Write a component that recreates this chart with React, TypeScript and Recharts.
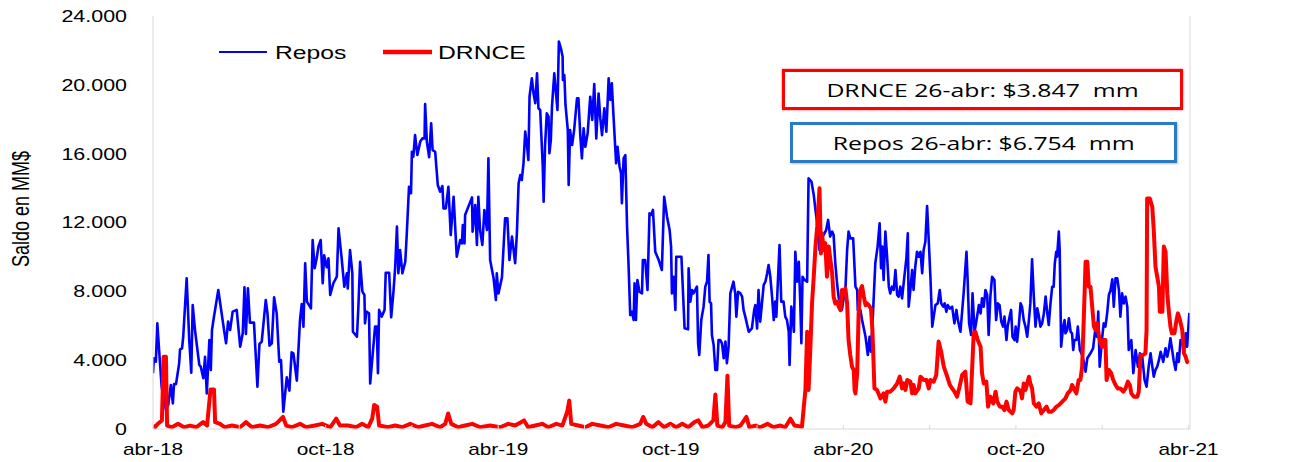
import React from 'react';
import { LineChart, Line, XAxis, YAxis } from 'recharts';

// x = months since abr-18, y = balance in thousands of MM$
const reposSeries: [number, number][] = [
  [0, 3.24], [0.03, 4.11], [0.1, 3.91], [0.15, 6.14], [0.22, 4.4], [0.3, 2.46], [0.45, 1.1], [0.53, 1.4], [0.62, 2.56], [0.69, 1.49],
  [0.73, 2.61], [0.8, 2.61], [0.91, 3.82], [0.94, 4.63], [1.01, 4.69], [1.05, 5.36], [1.17, 8.76], [1.26, 5.17], [1.33, 3.27], [1.38, 7.2],
  [1.46, 5.75], [1.61, 3.72], [1.66, 3.62], [1.75, 2.95], [1.81, 4.2], [1.87, 2.07], [1.96, 5.17], [2.01, 3.43], [2.05, 5.75], [2.12, 6.53],
  [2.27, 8.08], [2.42, 6.33], [2.47, 5.75], [2.54, 4.98], [2.61, 6.24], [2.68, 5.75], [2.77, 6.82], [2.91, 6.92], [3.03, 4.78], [3.12, 5.56],
  [3.18, 8.23], [3.23, 5.52], [3.3, 8.17], [3.37, 6.18], [3.51, 6.18], [3.63, 2.46], [3.7, 4.94], [3.78, 5.08], [3.92, 7.5], [3.98, 6.72],
  [4.05, 4.84], [4.13, 4.98], [4.21, 7.65], [4.3, 6.72], [4.39, 3.91], [4.45, 4.0], [4.53, 1.0], [4.65, 3.0], [4.74, 2.23], [4.82, 4.46],
  [4.88, 4.4], [5.0, 2.81], [5.11, 6.33], [5.17, 7.26], [5.23, 5.95], [5.29, 9.63], [5.35, 7.4], [5.49, 7.01], [5.55, 10.98], [5.62, 9.34],
  [5.69, 9.92], [5.75, 10.6], [5.83, 10.98], [5.9, 8.47], [5.95, 10.1], [6.04, 9.4], [6.1, 9.92], [6.16, 7.79], [6.27, 8.47], [6.39, 8.85],
  [6.45, 11.66], [6.56, 9.9], [6.65, 8.27], [6.74, 9.05], [6.77, 8.17], [6.85, 10.4], [6.93, 9.05], [6.95, 5.65], [7.09, 5.36], [7.14, 7.11],
  [7.2, 9.72], [7.28, 7.98], [7.35, 7.79], [7.37, 6.14], [7.42, 6.82], [7.51, 6.72], [7.55, 2.65], [7.63, 4.2], [7.72, 5.95], [7.78, 5.95],
  [7.82, 3.24], [7.86, 6.92], [7.95, 6.53], [8.05, 6.92], [8.09, 9.08], [8.21, 9.08], [8.28, 6.49], [8.36, 7.98], [8.42, 9.43], [8.48, 11.76],
  [8.53, 9.05], [8.59, 10.4], [8.67, 9.05], [8.77, 9.72], [8.82, 11.27], [8.9, 14.08], [8.97, 13.7], [9.0, 16.11], [9.05, 15.82], [9.11, 17.08],
  [9.19, 15.92], [9.29, 16.7], [9.37, 16.89], [9.44, 16.89], [9.46, 18.89], [9.52, 16.7], [9.6, 15.79], [9.67, 17.76], [9.72, 16.21], [9.81, 16.11],
  [9.9, 14.18], [9.98, 13.79], [10.06, 14.12], [10.1, 12.82], [10.18, 12.82], [10.27, 14.08], [10.35, 11.27], [10.45, 13.5], [10.56, 10.01], [10.68, 10.98],
  [10.74, 10.79], [10.77, 11.85], [10.83, 10.79], [10.85, 12.44], [11.09, 13.46], [11.11, 11.47], [11.2, 13.02], [11.26, 10.69], [11.31, 13.5], [11.37, 11.56],
  [11.45, 10.69], [11.52, 12.73], [11.61, 11.56], [11.66, 15.73], [11.72, 9.82], [11.84, 8.76], [11.92, 7.5], [11.95, 9.05], [12.01, 7.88], [12.13, 8.8],
  [12.24, 12.24], [12.32, 12.24], [12.39, 9.82], [12.48, 11.18], [12.59, 9.63], [12.65, 11.37], [12.71, 14.28], [12.77, 14.76], [12.82, 14.47], [12.88, 15.44],
  [12.94, 17.28], [13.0, 16.5], [13.05, 15.63], [13.09, 19.31], [13.17, 20.38], [13.23, 19.5], [13.29, 18.93], [13.35, 20.67], [13.4, 18.64], [13.46, 18.54],
  [13.55, 15.24], [13.58, 13.21], [13.63, 16.5], [13.69, 18.34], [13.75, 18.15], [13.78, 16.02], [13.83, 16.79], [13.87, 18.73], [13.95, 20.67], [14.02, 19.31],
  [14.06, 18.54], [14.11, 22.51], [14.18, 22.12], [14.24, 21.63], [14.25, 20.28], [14.3, 20.57], [14.34, 18.83], [14.42, 17.37], [14.45, 14.18], [14.5, 17.37],
  [14.57, 16.5], [14.64, 17.37], [14.74, 19.22], [14.79, 19.22], [14.85, 17.18], [14.91, 15.73], [14.97, 17.47], [15.03, 16.4], [15.11, 17.18], [15.2, 19.31],
  [15.27, 17.96], [15.34, 20.05], [15.41, 16.89], [15.49, 19.5], [15.55, 18.05], [15.61, 17.08], [15.69, 18.64], [15.76, 17.28], [15.84, 20.38], [15.9, 19.12],
  [15.95, 20.09], [16.01, 18.15], [16.1, 15.44], [16.15, 16.4], [16.22, 15.24], [16.27, 14.86], [16.3, 13.12], [16.36, 15.73], [16.42, 15.92], [16.48, 11.76],
  [16.53, 9.63], [16.59, 6.62], [16.65, 6.82], [16.71, 6.33], [16.74, 8.47], [16.79, 6.33], [16.84, 8.66], [16.91, 7.98], [17.0, 7.88], [17.03, 9.82],
  [17.11, 9.82], [17.19, 8.08], [17.26, 12.53], [17.31, 12.44], [17.38, 12.73], [17.46, 10.3], [17.58, 9.82], [17.69, 9.24], [17.77, 13.5], [17.87, 12.34],
  [17.96, 11.56], [18.01, 10.6], [18.04, 7.88], [18.1, 8.85], [18.16, 6.92], [18.19, 10.01], [18.37, 10.01], [18.48, 5.85], [18.6, 5.79], [18.62, 9.34],
  [18.68, 7.4], [18.74, 8.08], [18.79, 7.88], [18.91, 8.27], [18.95, 4.98], [18.99, 4.3], [19.06, 6.33], [19.14, 7.11], [19.2, 8.27], [19.26, 8.56],
  [19.31, 10.11], [19.35, 7.4], [19.4, 7.3], [19.43, 5.46], [19.49, 4.88], [19.55, 3.43], [19.61, 3.43], [19.66, 5.17], [19.72, 5.17], [19.78, 4.98],
  [19.84, 4.11], [19.9, 5.08], [19.95, 3.82], [20.01, 4.78], [20.07, 7.88], [20.18, 8.56], [20.24, 7.88], [20.28, 6.53], [20.34, 7.98], [20.42, 7.88],
  [20.48, 7.69], [20.53, 6.92], [20.59, 6.53], [20.71, 5.65], [20.82, 5.85], [20.9, 6.92], [20.94, 7.2], [21.0, 5.85], [21.05, 8.08], [21.11, 6.24],
  [21.23, 8.37], [21.29, 8.56], [21.35, 9.05], [21.4, 9.53], [21.46, 8.85], [21.52, 7.69], [21.58, 6.33], [21.63, 7.4], [21.67, 6.53], [21.73, 8.85],
  [21.78, 10.69], [21.84, 7.4], [21.92, 7.4], [21.98, 6.53], [22.04, 6.33], [22.1, 5.65], [22.13, 3.72], [22.19, 7.11], [22.24, 6.43], [22.28, 5.65],
  [22.33, 10.3], [22.39, 8.56], [22.45, 9.72], [22.5, 7.4], [22.54, 4.98], [22.58, 8.85], [22.65, 8.66], [22.74, 8.56], [22.79, 14.57], [22.89, 14.38],
  [22.97, 13.6], [23.03, 12.73], [23.09, 11.95], [23.12, 11.27], [23.17, 10.4], [23.23, 11.08], [23.31, 11.27], [23.4, 11.56], [23.47, 12.15], [23.54, 11.18],
  [23.61, 11.47], [23.66, 11.27], [23.72, 9.63], [23.78, 8.47], [23.84, 7.59], [23.9, 7.4], [23.95, 6.92], [24.01, 7.59], [24.07, 8.08], [24.13, 10.4],
  [24.18, 11.47], [24.24, 11.08], [24.34, 11.08], [24.42, 8.27], [24.48, 8.08], [24.5, 6.92], [24.53, 6.82], [24.59, 6.92], [24.65, 6.33], [24.77, 5.36],
  [24.85, 4.3], [24.91, 5.36], [24.96, 4.49], [25.03, 6.72], [25.11, 9.63], [25.19, 10.6], [25.26, 11.95], [25.31, 9.34], [25.35, 10.6], [25.4, 8.66],
  [25.46, 11.47], [25.52, 10.01], [25.58, 8.27], [25.63, 7.88], [25.69, 8.27], [25.75, 8.08], [25.81, 9.24], [25.87, 7.79], [25.92, 7.69], [25.98, 8.27],
  [26.04, 7.59], [26.12, 8.85], [26.19, 9.92], [26.24, 11.37], [26.27, 7.11], [26.33, 8.08], [26.39, 9.24], [26.44, 8.08], [26.5, 9.43], [26.56, 10.3],
  [26.62, 10.01], [26.68, 10.3], [26.74, 9.05], [26.79, 10.4], [26.85, 10.88], [26.91, 12.96], [26.97, 10.88], [27.03, 8.66], [27.09, 5.95], [27.2, 7.2],
  [27.28, 7.3], [27.35, 8.08], [27.4, 7.3], [27.47, 7.11], [27.52, 7.3], [27.58, 6.82], [27.63, 7.2], [27.7, 7.0], [27.78, 7.11], [27.86, 6.14],
  [27.93, 6.92], [27.98, 6.33], [28.07, 5.65], [28.18, 7.88], [28.28, 10.3], [28.32, 8.66], [28.37, 6.14], [28.44, 5.46], [28.49, 7.88], [28.56, 5.65],
  [28.63, 6.33], [28.71, 7.2], [28.77, 6.72], [28.82, 7.59], [28.88, 7.11], [28.94, 8.08], [29.0, 7.79], [29.05, 5.46], [29.11, 7.69], [29.17, 8.85],
  [29.25, 8.66], [29.31, 6.33], [29.37, 7.3], [29.43, 7.2], [29.49, 6.24], [29.55, 5.95], [29.6, 6.53], [29.67, 5.17], [29.71, 5.95], [29.78, 6.53],
  [29.83, 6.92], [29.88, 5.36], [29.95, 5.17], [29.99, 5.95], [30.04, 5.08], [30.1, 6.04], [30.16, 7.3], [30.21, 7.11], [30.27, 6.33], [30.33, 5.95],
  [30.39, 5.36], [30.45, 6.33], [30.5, 7.3], [30.56, 9.86], [30.62, 7.69], [30.68, 5.95], [30.74, 7.01], [30.79, 6.62], [30.85, 5.95], [30.91, 6.14],
  [30.97, 6.72], [31.03, 7.69], [31.09, 6.72], [31.14, 6.04], [31.2, 7.3], [31.26, 8.27], [31.31, 8.27], [31.35, 9.63], [31.4, 10.3], [31.43, 10.01],
  [31.49, 11.47], [31.52, 10.4], [31.57, 4.78], [31.64, 5.95], [31.69, 6.33], [31.72, 5.56], [31.78, 5.75], [31.84, 6.43], [31.9, 5.65], [31.95, 5.56],
  [31.99, 4.59], [32.03, 5.17], [32.1, 5.17], [32.15, 5.95], [32.22, 4.59], [32.3, 4.3], [32.36, 3.9], [32.42, 3.33], [32.48, 4.11], [32.59, 4.4],
  [32.68, 4.69], [32.77, 5.95], [32.82, 5.36], [32.86, 6.82], [32.91, 3.62], [33.0, 5.36], [33.05, 6.14], [33.11, 5.95], [33.17, 6.72], [33.23, 7.79],
  [33.29, 8.08], [33.35, 8.7], [33.4, 7.11], [33.46, 8.76], [33.52, 8.76], [33.58, 8.08], [33.63, 6.53], [33.69, 7.88], [33.75, 7.3], [33.81, 7.69],
  [33.87, 7.11], [33.92, 4.59], [34.01, 5.17], [34.08, 3.24], [34.16, 4.59], [34.24, 3.62], [34.31, 4.4], [34.39, 4.2], [34.47, 2.85], [34.54, 2.46],
  [34.62, 3.72], [34.68, 4.4], [34.74, 3.62], [34.79, 3.04], [34.85, 3.43], [34.91, 3.62], [34.97, 4.0], [35.03, 4.49], [35.12, 3.9], [35.2, 4.69],
  [35.26, 4.2], [35.31, 4.59], [35.37, 5.27], [35.42, 4.69], [35.48, 4.0], [35.55, 3.43], [35.61, 4.4], [35.66, 3.9], [35.72, 5.17], [35.78, 5.17],
  [35.84, 4.4], [35.9, 5.56], [35.95, 4.78], [36.01, 6.33], [36.03, 6.75],
];

const drnceSeries: [number, number][] = [
  [0, 0.2], [0.07, 0.1], [0.17, 0.3], [0.31, 0.5], [0.37, 4.2], [0.45, 4.2], [0.49, 0.2], [0.66, 0.1], [0.87, 0.3], [1.08, 0.1],
  [1.29, 0.2], [1.5, 0.1], [1.74, 0.4], [1.88, 0.2], [2.0, 2.3], [2.12, 2.3], [2.16, 0.4], [2.33, 0.3], [2.5, 0.1], [2.75, 0.2],
  [3.03, 0.1], [3.23, 0.4], [3.44, 0.1], [3.72, 0.2], [4.0, 0.1], [4.28, 0.3], [4.52, 0.7], [4.63, 0.2], [4.83, 0.1], [5.11, 0.3],
  [5.32, 0.1], [5.63, 0.2], [5.88, 0.3], [6.16, 0.1], [6.37, 0.6], [6.5, 0.2], [6.78, 0.2], [7.06, 0.1], [7.27, 0.3], [7.48, 0.1],
  [7.62, 0.6], [7.69, 1.4], [7.79, 1.3], [7.86, 0.2], [8.17, 0.1], [8.42, 0.2], [8.66, 0.1], [8.94, 0.3], [9.22, 0.1], [9.46, 0.2],
  [9.7, 0.3], [9.98, 0.1], [10.16, 0.3], [10.26, 0.9], [10.37, 0.3], [10.61, 0.1], [10.85, 0.2], [11.1, 0.3], [11.37, 0.1], [11.72, 0.2],
  [12.07, 0.1], [12.35, 0.3], [12.59, 0.2], [12.9, 0.5], [13.04, 0.1], [13.29, 0.2], [13.53, 0.3], [13.74, 0.1], [14.02, 0.3], [14.23, 0.2],
  [14.4, 1.0], [14.47, 1.65], [14.54, 0.3], [14.78, 0.2], [15.03, 0.1], [15.27, 0.3], [15.55, 0.2], [15.83, 0.1], [16.1, 0.3], [16.38, 0.2],
  [16.66, 0.1], [16.94, 0.3], [17.04, 0.7], [17.15, 0.3], [17.36, 0.1], [17.57, 0.4], [17.77, 0.1], [17.98, 0.3], [18.19, 0.1], [18.4, 0.3],
  [18.61, 0.1], [18.82, 0.4], [18.96, 0.5], [19.1, 0.1], [19.3, 0.2], [19.48, 0.5], [19.55, 2.0], [19.62, 0.2], [19.79, 0.1], [19.9, 0.4],
  [19.97, 3.1], [20.03, 0.2], [20.24, 0.1], [20.42, 0.2], [20.63, 0.7], [20.73, 0.1], [20.94, 0.2], [21.11, 0.1], [21.36, 0.3], [21.57, 0.1],
  [21.81, 0.2], [21.98, 0.1], [22.16, 0.6], [22.3, 0.2], [22.56, 0.13], [22.68, 2.27], [22.74, 5.65], [22.79, 2.27], [22.85, 4.59], [22.91, 7.3],
  [22.97, 8.85], [23.03, 10.6], [23.09, 11.76], [23.17, 13.99], [23.22, 10.2], [23.26, 11.37], [23.31, 10.4], [23.37, 10.8], [23.43, 8.85], [23.49, 10.6],
  [23.55, 9.82], [23.61, 9.05], [23.66, 7.69], [23.72, 7.3], [23.78, 7.4], [23.84, 7.11], [23.9, 6.9], [23.95, 8.08], [24.01, 7.88], [24.07, 8.17],
  [24.13, 7.3], [24.18, 5.17], [24.24, 4.3], [24.3, 3.62], [24.36, 3.43], [24.39, 2.27], [24.42, 2.07], [24.48, 3.24], [24.53, 6.72], [24.59, 8.08],
  [24.65, 8.31], [24.71, 7.69], [24.77, 7.2], [24.82, 7.3], [24.88, 7.2], [24.96, 7.0], [25.01, 5.75], [25.08, 2.36], [25.17, 2.27], [25.29, 1.78],
  [25.4, 2.07], [25.46, 1.59], [25.52, 2.17], [25.63, 2.17], [25.75, 2.36], [25.87, 2.65], [25.96, 3.04], [26.04, 2.36], [26.1, 2.65], [26.16, 2.27],
  [26.22, 2.85], [26.33, 2.75], [26.39, 2.07], [26.44, 2.56], [26.5, 2.07], [26.62, 2.36], [26.68, 3.04], [26.79, 2.85], [26.89, 2.85], [26.97, 2.36],
  [27.03, 2.85], [27.14, 2.75], [27.23, 3.14], [27.31, 5.08], [27.4, 4.49], [27.49, 3.62], [27.61, 3.04], [27.7, 2.56], [27.78, 2.36], [27.86, 2.17],
  [27.95, 1.88], [28.04, 2.46], [28.13, 3.14], [28.24, 3.33], [28.32, 1.59], [28.42, 1.49], [28.48, 3.62], [28.53, 5.56], [28.59, 5.65], [28.67, 5.17],
  [28.77, 4.78], [28.82, 3.24], [28.88, 2.65], [28.97, 2.75], [29.03, 1.3], [29.11, 1.88], [29.21, 1.49], [29.29, 2.17], [29.35, 1.59], [29.44, 1.3],
  [29.52, 1.3], [29.6, 1.1], [29.67, 1.59], [29.75, 1.1], [29.87, 0.91], [29.92, 1.1], [29.98, 2.17], [30.04, 2.36], [30.16, 2.2], [30.21, 1.78],
  [30.27, 2.65], [30.33, 2.27], [30.39, 2.65], [30.45, 3.04], [30.5, 2.65], [30.56, 2.36], [30.62, 1.49], [30.71, 1.3], [30.79, 1.49], [30.88, 0.91],
  [30.97, 1.1], [31.06, 1.3], [31.14, 1.0], [31.22, 1.0], [31.31, 1.1], [31.41, 1.3], [31.49, 1.39], [31.61, 1.59], [31.72, 1.78], [31.8, 2.07],
  [31.9, 2.27], [31.95, 2.56], [32.01, 2.36], [32.1, 2.07], [32.18, 2.85], [32.24, 2.85], [32.3, 3.62], [32.36, 6.53], [32.42, 9.72], [32.48, 9.72],
  [32.53, 8.27], [32.59, 8.27], [32.65, 7.11], [32.71, 5.95], [32.77, 5.75], [32.82, 6.14], [32.88, 5.46], [32.94, 4.98], [33.0, 4.78], [33.05, 5.17],
  [33.11, 5.17], [33.15, 2.85], [33.23, 3.43], [33.31, 3.24], [33.38, 2.85], [33.46, 2.56], [33.54, 2.36], [33.63, 2.36], [33.73, 2.17], [33.81, 2.36],
  [33.89, 2.75], [33.96, 2.56], [34.01, 2.07], [34.1, 1.88], [34.22, 1.88], [34.27, 2.17], [34.33, 4.3], [34.42, 4.3], [34.5, 4.4], [34.54, 5.75],
  [34.56, 13.4], [34.65, 13.4], [34.74, 12.9], [34.79, 11.56], [34.85, 9.43], [34.91, 8.85], [34.97, 8.27], [35.0, 6.82], [35.09, 6.82], [35.14, 10.6],
  [35.2, 10.3], [35.26, 7.88], [35.31, 6.9], [35.37, 5.95], [35.42, 5.56], [35.51, 5.56], [35.58, 6.33], [35.63, 6.72], [35.7, 6.33], [35.78, 5.75],
  [35.84, 4.4], [35.9, 4.2], [35.95, 3.9], [36.01, 3.85],
];

const yTicks = [0, 4, 8, 12, 16, 20, 24];
const xTicks = [0, 3, 6, 9, 12, 15, 18, 21, 24, 27, 30, 33, 36];
const xLabels = ['abr-18', 'oct-18', 'abr-19', 'oct-19', 'abr-20', 'oct-20', 'abr-21'];
const seriesNames = ['Repos', 'DRNCE'];
const notes = ['DRNCE 26-abr: $3.847  mm', 'Repos 26-abr: $6.754  mm'];

const reposData = reposSeries.map(([x, v]) => ({ x, v }));
const drnceData = drnceSeries.map(([x, v]) => ({ x, v }));

const FONT = '"Liberation Sans", Arial, sans-serif';
const fmtY = (v: number) => (v === 0 ? '0' : `${v}.000`);

const LeftTick = (p: any) => (
  <g transform={`translate(${p.x - 26},${p.y}) scale(1.3,1)`}>
    <text textAnchor="end" dy="0.36em" fontSize={16.5} fontFamily={FONT} fill="#000">{fmtY(p.payload.value)}</text>
  </g>
);
const RightTick = (p: any) => (
  <g transform={`translate(${p.x + 23},${p.y}) scale(1.3,1)`}>
    <text textAnchor="start" dy="0.36em" fontSize={16.5} fontFamily={FONT} fill="#000">{fmtY(p.payload.value)}</text>
  </g>
);
const XTick = (p: any) => {
  const v = p.payload.value;
  return (
    <g>
      <line x1={p.x} x2={p.x} y1={p.y} y2={p.y - 4} stroke="#d9d9d9" strokeWidth={1} />
      {v % 6 === 0 && (
        <g transform={`translate(${p.x},${p.y + 20}) scale(1.3,1)`}>
          <text textAnchor="middle" dy="0.36em" fontSize={16} fontFamily={FONT} fill="#000">{xLabels[v / 6]}</text>
        </g>
      )}
    </g>
  );
};

export default function App() {
  return (
    <div style={{ position: 'absolute', left: 0, top: 0, width: 1297, height: 462, background: '#fff', overflow: 'hidden' }}>
      <LineChart width={1297} height={462} margin={{ top: 16, right: 0, bottom: 0, left: 0 }}>
        <XAxis
          dataKey="x"
          type="number"
          domain={[0, 36.05]}
          ticks={xTicks}
          interval={0}
          height={33}
          tickSize={0}
          tickMargin={0}
          tickLine={false}
          axisLine={{ stroke: '#d9d9d9' }}
          tick={<XTick />}
          allowDataOverflow
        />
        <YAxis yAxisId="left" orientation="left" width={153} domain={[0, 24]} ticks={yTicks} interval={0}
          tickSize={0} tickMargin={0} tickLine={false} axisLine={{ stroke: '#d9d9d9' }} tick={<LeftTick />} />
        <YAxis yAxisId="right" orientation="right" width={107} domain={[0, 24]} ticks={yTicks} interval={0}
          tickSize={0} tickMargin={0} tickLine={false} axisLine={{ stroke: '#d9d9d9' }} tick={<RightTick />} />
        <Line yAxisId="left" data={reposData} dataKey="v" name={seriesNames[0]} type="linear" stroke="#0000ff"
          strokeWidth={2.6} dot={false} isAnimationActive={false} strokeLinejoin="round" />
        <Line yAxisId="left" data={drnceData} dataKey="v" name={seriesNames[1]} type="linear" stroke="#ff0000"
          strokeWidth={4} dot={false} isAnimationActive={false} strokeLinejoin="round" />
      </LineChart>

      <svg width={1297} height={462} style={{ position: 'absolute', left: 0, top: 0, pointerEvents: 'none' }}>
        <g transform="translate(21,209) scale(1.3,1) rotate(-90)">
          <text textAnchor="middle" dy="0.36em" fontSize={18} fontFamily={FONT} fill="#000">Saldo en MM$</text>
        </g>
        <line x1={219} x2={267} y1={52} y2={52} stroke="#0000ff" strokeWidth={2.2} />
        <g transform="translate(275,52) scale(1.3,1)">
          <text dy="0.36em" fontSize={19} fontFamily={FONT} fill="#000">{seriesNames[0]}</text>
        </g>
        <line x1={383} x2={432} y1={52} y2={52} stroke="#ff0000" strokeWidth={4.5} />
        <g transform="translate(438,52) scale(1.3,1)">
          <text dy="0.36em" fontSize={19} fontFamily={FONT} fill="#000">{seriesNames[1]}</text>
        </g>
      </svg>

      <div style={{
        position: 'absolute', left: 782, top: 69, width: 401, height: 41, boxSizing: 'border-box',
        border: '3px solid #ff0000', background: '#fff', display: 'flex', alignItems: 'center', justifyContent: 'center',
        boxShadow: '0 0 2px rgba(255,0,0,0.6)',
      }}>
        <span style={{ fontFamily: '"Open Sans", sans-serif', fontSize: 18.5, whiteSpace: 'pre', transform: 'scaleX(1.34)', display: 'inline-block', color: '#000' }}>{notes[0]}</span>
      </div>
      <div style={{
        position: 'absolute', left: 790, top: 122, width: 387, height: 41, boxSizing: 'border-box',
        border: '3px solid #2a7ac6', background: '#fff', display: 'flex', alignItems: 'center', justifyContent: 'center',
        boxShadow: '1px 1px 2px rgba(0,0,0,0.25)',
      }}>
        <span style={{ fontFamily: '"Open Sans", sans-serif', fontSize: 18.5, whiteSpace: 'pre', transform: 'scaleX(1.34)', display: 'inline-block', color: '#000' }}>{notes[1]}</span>
      </div>
    </div>
  );
}
